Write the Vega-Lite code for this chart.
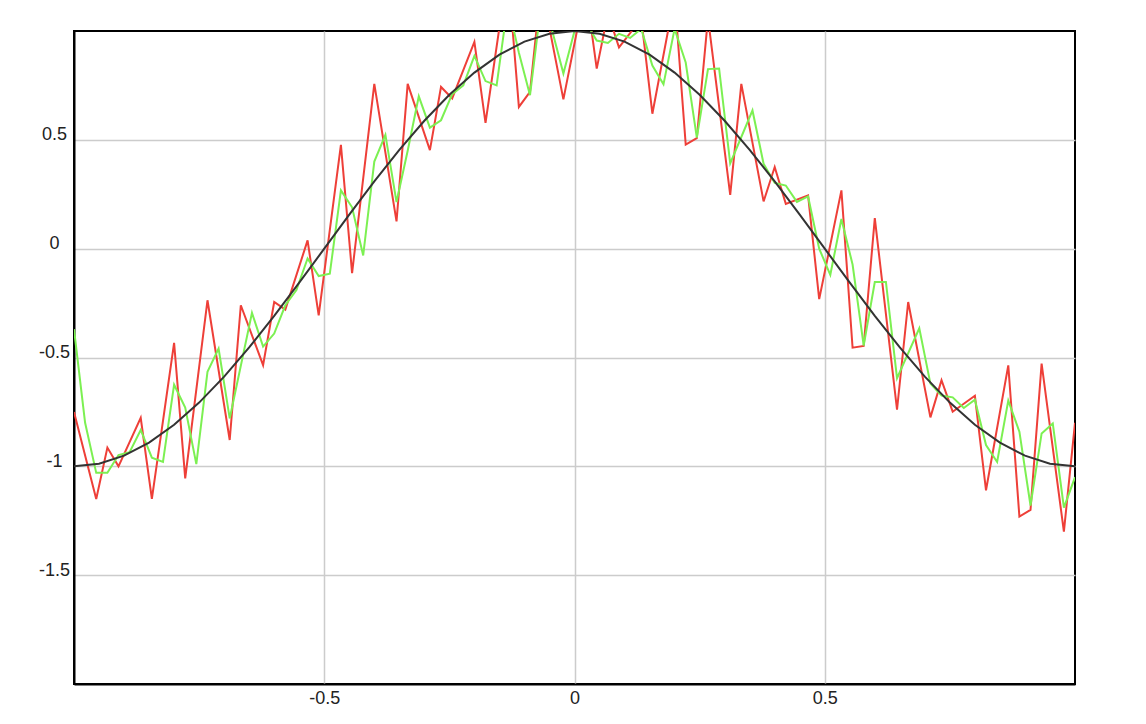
{
  "$schema": "https://vega.github.io/schema/vega-lite/v6.json",
  "width": 1001,
  "height": 653,
  "autosize": {"type": "none"},
  "padding": {"left": 74, "top": 31, "right": 71, "bottom": 40},
  "background": "#ffffff",
  "config": {
    "view": {"stroke": "#000000", "strokeWidth": 2},
    "axis": {
      "labelFont": "Liberation Sans",
      "labelFontSize": 18,
      "labelColor": "#222222",
      "gridColor": "#cccccc",
      "gridWidth": 1.5,
      "domainColor": "#000000",
      "domainWidth": 2,
      "ticks": false,
      "tickSize": 0,
      "title": null
    }
  },
  "datasets": {
    "red": [
      {"x": -1, "y": -0.75}, {"x": -0.9556, "y": -1.15}, {"x": -0.9333, "y": -0.914}, {"x": -0.9111, "y": -1.0},
      {"x": -0.8667, "y": -0.777}, {"x": -0.8444, "y": -1.15}, {"x": -0.8, "y": -0.433}, {"x": -0.7778, "y": -1.055},
      {"x": -0.7333, "y": -0.237}, {"x": -0.6889, "y": -0.879}, {"x": -0.6667, "y": -0.26}, {"x": -0.6222, "y": -0.535},
      {"x": -0.6, "y": -0.245}, {"x": -0.5778, "y": -0.28}, {"x": -0.5333, "y": 0.038}, {"x": -0.5111, "y": -0.306},
      {"x": -0.4667, "y": 0.477}, {"x": -0.4444, "y": -0.112}, {"x": -0.4, "y": 0.757}, {"x": -0.3556, "y": 0.125},
      {"x": -0.3333, "y": 0.757}, {"x": -0.2889, "y": 0.453}, {"x": -0.2667, "y": 0.743}, {"x": -0.2444, "y": 0.69},
      {"x": -0.2, "y": 0.95}, {"x": -0.1778, "y": 0.578}, {"x": -0.1333, "y": 1.28}, {"x": -0.1111, "y": 0.651},
      {"x": -0.0889, "y": 0.72}, {"x": -0.0667, "y": 1.21}, {"x": -0.0222, "y": 0.686}, {"x": 0.0222, "y": 1.2},
      {"x": 0.0444, "y": 0.827}, {"x": 0.0667, "y": 1.08}, {"x": 0.0889, "y": 0.925}, {"x": 0.1111, "y": 0.99},
      {"x": 0.1333, "y": 1.06}, {"x": 0.1556, "y": 0.62}, {"x": 0.2, "y": 1.16}, {"x": 0.2222, "y": 0.478},
      {"x": 0.2444, "y": 0.508}, {"x": 0.2667, "y": 1.06}, {"x": 0.3111, "y": 0.247}, {"x": 0.3333, "y": 0.757},
      {"x": 0.3778, "y": 0.217}, {"x": 0.4, "y": 0.375}, {"x": 0.4222, "y": 0.206}, {"x": 0.4667, "y": 0.245},
      {"x": 0.4889, "y": -0.232}, {"x": 0.5333, "y": 0.268}, {"x": 0.5556, "y": -0.455}, {"x": 0.5778, "y": -0.447},
      {"x": 0.6, "y": 0.14}, {"x": 0.6444, "y": -0.74}, {"x": 0.6667, "y": -0.245}, {"x": 0.7111, "y": -0.775},
      {"x": 0.7333, "y": -0.604}, {"x": 0.7556, "y": -0.749}, {"x": 0.8, "y": -0.676}, {"x": 0.8222, "y": -1.11},
      {"x": 0.8667, "y": -0.536}, {"x": 0.8889, "y": -1.231}, {"x": 0.9111, "y": -1.2}, {"x": 0.9333, "y": -0.528},
      {"x": 0.9778, "y": -1.3}, {"x": 1, "y": -0.8}
    ],
    "green": [
      {"x": -1, "y": -0.37}, {"x": -0.9778, "y": -0.8}, {"x": -0.9556, "y": -1.03}, {"x": -0.9333, "y": -1.03},
      {"x": -0.9111, "y": -0.948}, {"x": -0.8889, "y": -0.935}, {"x": -0.8667, "y": -0.833}, {"x": -0.8444, "y": -0.96},
      {"x": -0.8222, "y": -0.98}, {"x": -0.8, "y": -0.625}, {"x": -0.7778, "y": -0.73}, {"x": -0.7556, "y": -0.99},
      {"x": -0.7333, "y": -0.566}, {"x": -0.7111, "y": -0.459}, {"x": -0.6889, "y": -0.78}, {"x": -0.6444, "y": -0.295},
      {"x": -0.6222, "y": -0.45}, {"x": -0.6, "y": -0.39}, {"x": -0.5778, "y": -0.26}, {"x": -0.5556, "y": -0.19},
      {"x": -0.5333, "y": -0.045}, {"x": -0.5111, "y": -0.126}, {"x": -0.4889, "y": -0.115}, {"x": -0.4667, "y": 0.268},
      {"x": -0.4444, "y": 0.19}, {"x": -0.4222, "y": -0.031}, {"x": -0.4, "y": 0.4}, {"x": -0.3778, "y": 0.523},
      {"x": -0.3556, "y": 0.214}, {"x": -0.3333, "y": 0.45}, {"x": -0.3111, "y": 0.7}, {"x": -0.2889, "y": 0.556},
      {"x": -0.2667, "y": 0.59}, {"x": -0.2444, "y": 0.71}, {"x": -0.2222, "y": 0.75}, {"x": -0.2, "y": 0.886},
      {"x": -0.1778, "y": 0.77}, {"x": -0.1556, "y": 0.75}, {"x": -0.1333, "y": 1.125}, {"x": -0.1111, "y": 0.9},
      {"x": -0.0889, "y": 0.705}, {"x": -0.0667, "y": 1.12}, {"x": -0.0444, "y": 1.0}, {"x": -0.0222, "y": 0.805},
      {"x": 0, "y": 1.0}, {"x": 0.0222, "y": 1.04}, {"x": 0.0444, "y": 0.956}, {"x": 0.0667, "y": 0.945},
      {"x": 0.0889, "y": 0.987}, {"x": 0.1111, "y": 0.968}, {"x": 0.1333, "y": 1.01}, {"x": 0.1556, "y": 0.841},
      {"x": 0.1778, "y": 0.755}, {"x": 0.2, "y": 1.01}, {"x": 0.2222, "y": 0.855}, {"x": 0.2444, "y": 0.51},
      {"x": 0.2667, "y": 0.825}, {"x": 0.2889, "y": 0.828}, {"x": 0.3111, "y": 0.392}, {"x": 0.3333, "y": 0.513},
      {"x": 0.3556, "y": 0.635}, {"x": 0.3778, "y": 0.39}, {"x": 0.4, "y": 0.302}, {"x": 0.4222, "y": 0.29},
      {"x": 0.4444, "y": 0.215}, {"x": 0.4667, "y": 0.24}, {"x": 0.4889, "y": 0.0}, {"x": 0.5111, "y": -0.12},
      {"x": 0.5333, "y": 0.136}, {"x": 0.5556, "y": -0.073}, {"x": 0.5778, "y": -0.445}, {"x": 0.6, "y": -0.153},
      {"x": 0.6222, "y": -0.153}, {"x": 0.6444, "y": -0.595}, {"x": 0.6889, "y": -0.366}, {"x": 0.7111, "y": -0.62},
      {"x": 0.7333, "y": -0.675}, {"x": 0.7556, "y": -0.683}, {"x": 0.7778, "y": -0.732}, {"x": 0.8, "y": -0.694},
      {"x": 0.8222, "y": -0.902}, {"x": 0.8444, "y": -0.98}, {"x": 0.8667, "y": -0.698}, {"x": 0.8889, "y": -0.841},
      {"x": 0.9111, "y": -1.18}, {"x": 0.9333, "y": -0.849}, {"x": 0.9556, "y": -0.803}, {"x": 0.9778, "y": -1.19},
      {"x": 1, "y": -1.05}
    ],
    "black": [
      {"x": -1, "y": -1}, {"x": -0.95, "y": -0.98769}, {"x": -0.9, "y": -0.95106}, {"x": -0.85, "y": -0.89101},
      {"x": -0.8, "y": -0.80902}, {"x": -0.75, "y": -0.70711}, {"x": -0.7, "y": -0.58779}, {"x": -0.65, "y": -0.45399},
      {"x": -0.6, "y": -0.30902}, {"x": -0.55, "y": -0.15643}, {"x": -0.5, "y": 0}, {"x": -0.45, "y": 0.15643},
      {"x": -0.4, "y": 0.30902}, {"x": -0.35, "y": 0.45399}, {"x": -0.3, "y": 0.58779}, {"x": -0.25, "y": 0.70711},
      {"x": -0.2, "y": 0.80902}, {"x": -0.15, "y": 0.89101}, {"x": -0.1, "y": 0.95106}, {"x": -0.05, "y": 0.98769},
      {"x": 0, "y": 1}, {"x": 0.05, "y": 0.98769}, {"x": 0.1, "y": 0.95106}, {"x": 0.15, "y": 0.89101},
      {"x": 0.2, "y": 0.80902}, {"x": 0.25, "y": 0.70711}, {"x": 0.3, "y": 0.58779}, {"x": 0.35, "y": 0.45399},
      {"x": 0.4, "y": 0.30902}, {"x": 0.45, "y": 0.15643}, {"x": 0.5, "y": 0}, {"x": 0.55, "y": -0.15643},
      {"x": 0.6, "y": -0.30902}, {"x": 0.65, "y": -0.45399}, {"x": 0.7, "y": -0.58779}, {"x": 0.75, "y": -0.70711},
      {"x": 0.8, "y": -0.80902}, {"x": 0.85, "y": -0.89101}, {"x": 0.9, "y": -0.95106}, {"x": 0.95, "y": -0.98769},
      {"x": 1, "y": -1}
    ]
  },
  "encoding": {
    "x": {
      "field": "x", "type": "quantitative",
      "scale": {"domain": [-1, 1], "nice": false, "zero": false},
      "axis": {"values": [-0.5, 0, 0.5], "labelPadding": 5, "labelBaseline": "top", "labelExpr": "'' + datum.value"}
    },
    "y": {
      "field": "y", "type": "quantitative",
      "scale": {"domain": [-2, 1], "nice": false, "zero": false},
      "axis": {"values": [-1.5, -1, -0.5, 0, 0.5], "labelAlign": "center", "labelPadding": 20, "labelBaseline": "middle", "labelOffset": -5, "labelExpr": "'' + datum.value"}
    }
  },
  "layer": [
    {"data": {"name": "red"}, "mark": {"type": "line", "color": "#ee3f38", "strokeWidth": 2, "clip": true}},
    {"data": {"name": "green"}, "mark": {"type": "line", "color": "#7cf052", "strokeWidth": 2, "clip": true}},
    {"data": {"name": "black"}, "mark": {"type": "line", "color": "#333333", "strokeWidth": 2, "clip": true}}
  ]
}
